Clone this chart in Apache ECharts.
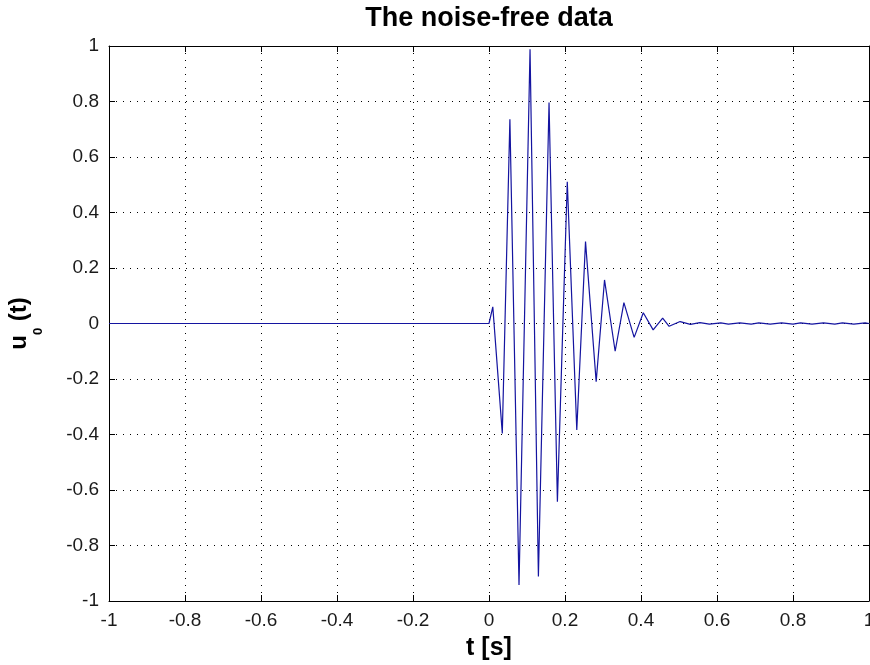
<!DOCTYPE html>
<html>
<head>
<meta charset="utf-8">
<script src="https://cdn.jsdelivr.net/npm/echarts@6/dist/echarts.min.js"></script>
<style>
  html, body { margin: 0; padding: 0; background: #ffffff; }
  #chart { width: 870px; height: 665px; }
</style>
</head>
<body>
<div id="chart"></div>
<script>
// ---- data ----
const chartTitle = 'The noise-free data';
const xAxisTitle = 't [s]';
const xTicks = [-1, -0.8, -0.6, -0.4, -0.2, 0, 0.2, 0.4, 0.6, 0.8, 1];
const yTicks = [-1, -0.8, -0.6, -0.4, -0.2, 0, 0.2, 0.4, 0.6, 0.8, 1];

// time samples (s) and signal values u0(t) at the visible vertices of the trace
const tValues = [
  -1, 0, 0.010, 0.035, 0.055, 0.079, 0.108, 0.130, 0.158, 0.180,
  0.206, 0.231, 0.254, 0.282, 0.304, 0.332, 0.355, 0.382, 0.406, 0.432,
  0.457, 0.474, 0.503, 0.530, 0.555, 0.580, 0.610, 0.630, 0.660, 0.690,
  0.710, 0.740, 0.770, 0.800, 0.820, 0.850, 0.880, 0.910, 0.930, 0.960,
  0.990, 1.0
];
const uValues = [
  0, 0, 0.06, -0.396, 0.736, -0.942, 0.988, -0.912, 0.796, -0.642,
  0.511, -0.384, 0.295, -0.210, 0.157, -0.100, 0.075, -0.050, 0.039, -0.023,
  0.019, -0.010, 0.007, -0.003, 0.003, -0.002, 0.002, -0.002, 0.002, -0.002,
  0.002, -0.002, 0.002, -0.002, 0.002, -0.002, 0.002, -0.002, 0.002, -0.002,
  0.002, 0
];

const seriesData = tValues.map((t, i) => [t, uValues[i]]);

const chart = echarts.init(document.getElementById('chart'), null, { renderer: 'canvas' });

const gridLine = { show: true, lineStyle: { color: '#000000', width: 1, type: [1, 6] } };
const axisLine = { show: true, onZero: false, lineStyle: { color: '#000000', width: 1 } };
const axisTick = { show: true, inside: true, length: 6, lineStyle: { color: '#000000', width: 1 } };
const labelFont = { fontFamily: 'Liberation Sans, Arial, sans-serif', fontSize: 19, color: '#1a1a1a' };

const fmt = v => {
  const r = Math.round(v * 10) / 10;
  return String(r);
};

const option = {
  backgroundColor: '#ffffff',
  animation: false,
  grid: { left: 109, top: 46, right: 1, bottom: 64, containLabel: false, outerBoundsMode: 'none' },
  graphic: [
    {
      type: 'text', x: 489, y: 19,
      style: {
        text: chartTitle, textAlign: 'center', textVerticalAlign: 'middle',
        fontFamily: 'Liberation Sans, Arial, sans-serif', fontWeight: 'bold', fontSize: 27, fill: '#000000'
      }
    }
  ],
  xAxis: [
    {
      type: 'value', position: 'bottom', min: xTicks[0], max: xTicks[xTicks.length - 1], interval: 0.2,
      axisLine, axisTick, splitLine: gridLine,
      axisLabel: Object.assign({ margin: 10, formatter: fmt, hideOverlap: false }, labelFont),
      name: xAxisTitle, nameLocation: 'middle', nameGap: 35,
      nameTextStyle: { fontFamily: 'Liberation Sans, Arial, sans-serif', fontWeight: 'bold', fontSize: 25, color: '#000000' }
    },
    {
      type: 'value', position: 'top', min: xTicks[0], max: xTicks[xTicks.length - 1], interval: 0.2,
      axisLine, axisTick, splitLine: { show: false }, axisLabel: { show: false }
    }
  ],
  yAxis: [
    {
      type: 'value', position: 'left', min: yTicks[0], max: yTicks[yTicks.length - 1], interval: 0.2,
      axisLine, axisTick, splitLine: gridLine,
      axisLabel: Object.assign({ margin: 10, formatter: fmt }, labelFont),
      name: '{a|u}{b|0}{a| (t)}', nameLocation: 'middle', nameRotate: 90, nameGap: 40,
      nameTextStyle: {
        rich: {
          a: { fontFamily: 'Liberation Sans, Arial, sans-serif', fontWeight: 'bold', fontSize: 24, lineHeight: 24, verticalAlign: 'top', color: '#000000' },
          b: { fontFamily: 'Liberation Sans, Arial, sans-serif', fontWeight: 'bold', fontSize: 13, lineHeight: 62, verticalAlign: 'middle', color: '#000000' }
        }
      }
    },
    {
      type: 'value', position: 'right', min: yTicks[0], max: yTicks[yTicks.length - 1], interval: 0.2,
      axisLine, axisTick, splitLine: { show: false }, axisLabel: { show: false }
    }
  ],
  series: [
    {
      type: 'line', xAxisIndex: 0, yAxisIndex: 0,
      data: seriesData, showSymbol: false, symbol: 'none',
      lineStyle: { color: '#1414a0', width: 1.2 },
      clip: false
    }
  ]
};

chart.setOption(option);
</script>
</body>
</html>
